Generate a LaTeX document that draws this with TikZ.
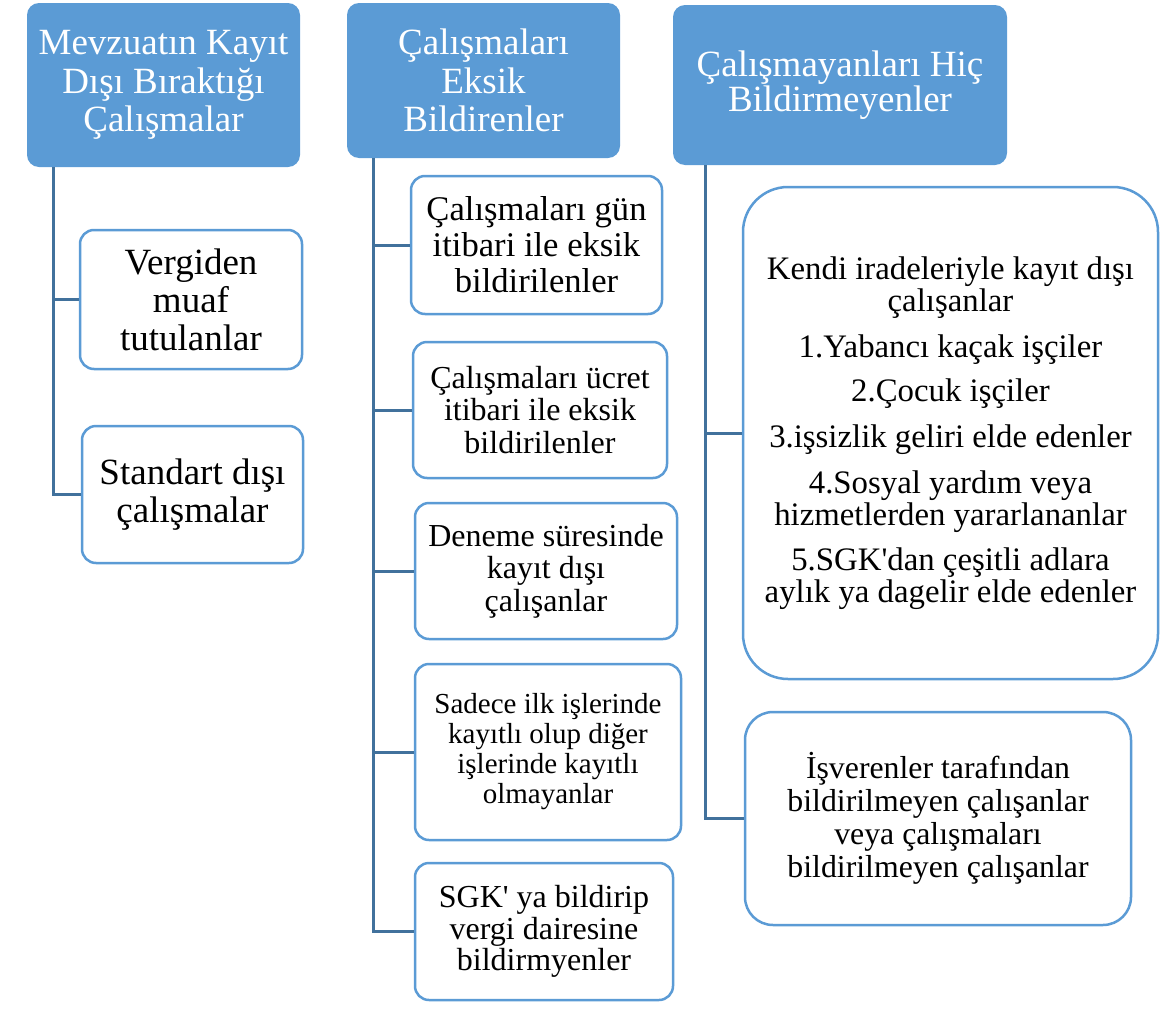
\documentclass[tikz,border=0pt]{standalone}
\usepackage{fontspec}
\setmainfont{Liberation Serif}[Ligatures=TeXOff]
\usetikzlibrary{calc}
\definecolor{hdblue}{HTML}{5B9BD5}
\definecolor{lnblue}{HTML}{41719C}
\tikzset{
  head/.style={rounded corners=12pt, fill=hdblue, text=white, align=center, inner sep=0pt},
  item/.style={draw=hdblue, line width=2.5pt, rounded corners=14pt, fill=white, align=center, inner sep=0pt},
  link/.style={draw=lnblue, line width=3pt}
}
\newcommand{\fs}[2]{\fontsize{#1}{#2}\selectfont}

\begin{document}
\begin{tikzpicture}[x=1pt,y=-1pt]
    \useasboundingbox (0,0) rectangle (1160,1012);
    \coordinate (t1) at (53,0);
    \coordinate (t2) at (373,0);
    \coordinate (t3) at (705,0);

    \node[head, minimum width=273, minimum height=164, font=\fs{37}{38.5}] (h1) at (163.5,85)
        {Mevzuatın Kayıt\\Dışı Bıraktığı\\Çalışmalar};
    \node[head, minimum width=273, minimum height=155, font=\fs{37}{38.5}] (h2) at (483.5,80.5)
        {Çalışmaları\\Eksik\\Bildirenler};
    \node[head, minimum width=334, minimum height=160, font=\fs{37}{35}] (h3) at (840,85)
        {Çalışmayanları Hiç\\Bildirmeyenler};

    \node[item, minimum width=222, minimum height=139, font=\fs{37}{38}] (v1) at (191,299.5)
        {Vergiden\\muaf\\tutulanlar};
    \node[item, minimum width=221, minimum height=137, font=\fs{37}{38}] (v2) at (192.5,494.5)
        {Standart dışı\\çalışmalar};

    \node[item, minimum width=251, minimum height=138, font=\fs{34.6}{36}] (m1) at (536.5,245)
        {Çalışmaları gün\\itibari ile eksik\\bildirilenler};
    \node[item, minimum width=254, minimum height=136, font=\fs{32}{32.5}] (m2) at (540,410)
        {Çalışmaları ücret\\itibari ile eksik\\bildirilenler};
    \node[item, minimum width=262, minimum height=136, font=\fs{32}{32.5}] (m3) at (546,571)
        {Deneme süresinde\\kayıt dışı\\çalışanlar};
    \node[item, minimum width=266, minimum height=176, font=\fs{29}{30}] (m4) at (548,752)
        {Sadece ilk işlerinde\\kayıtlı olup diğer\\işlerinde kayıtlı\\olmayanlar};
    \node[item, minimum width=258, minimum height=137, font=\fs{32}{31.5}] (m5) at (544,931.5)
        {SGK' ya bildirip\\vergi dairesine\\bildirmyenler};

    \node[item, rounded corners=45pt, minimum width=415, minimum height=492, font=\fs{32.8}{32}] (r1) at (950.5,433)
        {Kendi iradeleriyle kayıt dışı\\çalışanlar\\[14pt]1.Yabancı kaçak işçiler\\[12pt]2.Çocuk işçiler\\[14pt]3.işsizlik geliri elde edenler\\[14pt]4.Sosyal yardım veya\\hizmetlerden yararlananlar\\[13pt]5.SGK'dan çeşitli adlara\\aylık ya dagelir elde edenler};
    \node[item, rounded corners=28pt, minimum width=386, minimum height=213, font=\fs{31.8}{33}] (r2) at (938,818.5)
        {İşverenler tarafından\\bildirilmeyen çalışanlar\\veya çalışmaları\\bildirilmeyen çalışanlar};

    \foreach \b in {v1,v2}
        \draw[link] (t1 |- h1.south) |- (\b.west);
    \foreach \b in {m1,m2,m3,m4,m5}
        \draw[link] (t2 |- h2.south) |- (\b.west);
    \foreach \b in {r1,r2}
        \draw[link] (t3 |- h3.south) |- (\b.west);
\end{tikzpicture}
\end{document}
